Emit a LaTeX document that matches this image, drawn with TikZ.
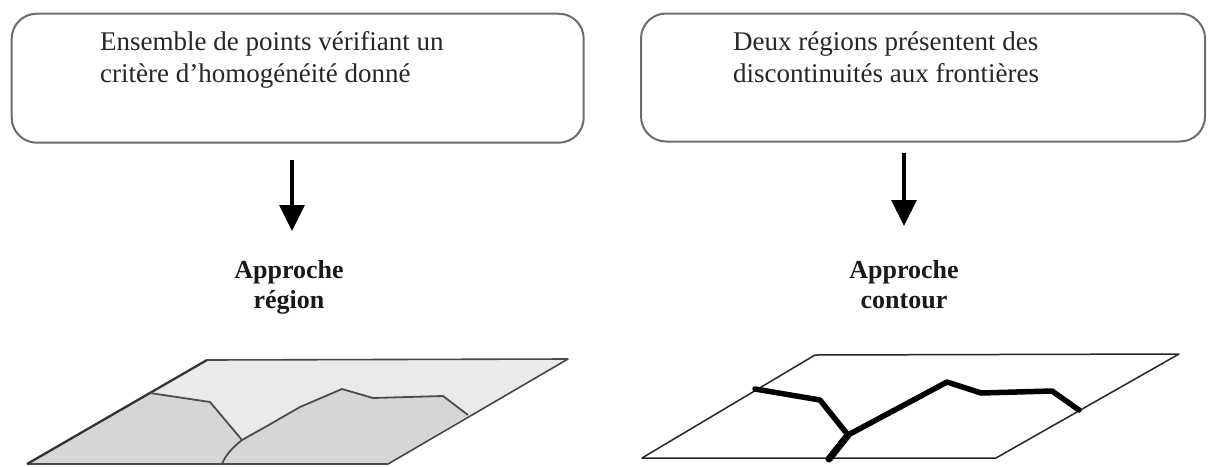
\documentclass[tikz,border=0pt]{standalone}
\usepackage{fontspec}
\setmainfont{Liberation Serif}
\usetikzlibrary{arrows.meta}
\definecolor{regiontop}{HTML}{EAEAEA}
\definecolor{regionlow}{HTML}{D6D6D6}
\definecolor{frameline}{HTML}{6C6C6C}
\begin{document}
\begin{tikzpicture}[x=1pt,y=-1pt,
  infobox/.style={draw=frameline, line width=2pt, rounded corners=25pt,
    anchor=north west, inner sep=0pt},
  boxtext/.style={anchor=base west, inner sep=0pt, text=black!85,
    font=\fontsize{27}{32}\selectfont},
  approach/.style={anchor=base, inner sep=0pt, text=black!90,
    font=\bfseries\fontsize{26}{30}\selectfont},
  downarrow/.style={line width=3.5pt, -{Triangle[width=25pt,length=26pt]}},
  planeedge/.style={draw=black!72, line width=1.6pt, line join=round},
  regionedge/.style={draw=black!70, line width=1.8pt, line join=round},
  contouredge/.style={draw=black, line width=5.5pt, line join=round, line cap=round},
  thinedge/.style={draw=black!85, line width=1.5pt, line join=round}
]
\useasboundingbox[fill=white] (0,0) rectangle (1209,466);

% ---- definition boxes ----
\node[infobox, minimum width=572pt, minimum height=129pt] (boxL) at (10.7,12.7) {};
\node[infobox, minimum width=564pt, minimum height=128pt] (boxR) at (640,12.5) {};
\node[boxtext] (tL1) at (100,50) {Ensemble de points vérifiant un};
\node[boxtext] (tL2) at (100,82) {critère d’homogénéité donné};
\node[boxtext] (tR1) at (733,50) {Deux régions présentent des};
\node[boxtext] (tR2) at (733,82) {discontinuités aux frontières};

% ---- approach labels ----
\node[approach] (apL1) at (289,278) {Approche};
\node[approach] (apL2) at (289,308) {région};
\node[approach] (apR1) at (904,278) {Approche};
\node[approach] (apR2) at (904,308) {contour};

% ---- arrows ----
\coordinate (arL1) at (292,160);
\coordinate (arL2) at (292,231);
\coordinate (arR1) at (904,153);
\coordinate (arR2) at (904,226);
\draw[downarrow] (arL1) -- (arL2);
\draw[downarrow] (arR1) -- (arR2);

% ---- region approach: plane split into three regions ----
\fill[regiontop] (207,360) -- (568,359) -- (388,464) -- (27,464) -- cycle;
\fill[regionlow] (150,393) -- (210,402) -- (242,440)
  .. controls (232,448) and (225,456) .. (222,464) -- (27,464) -- cycle;
\fill[regionlow] (242,440) -- (267,426) -- (300,407) -- (342,389) -- (373,398)
  -- (443,396) -- (468,415) -- (388,464) -- (222,464)
  .. controls (225,456) and (232,448) .. (242,440) -- cycle;
\draw[planeedge] (207,360) -- (568,359) -- (388,464) -- (27,464);
\draw[planeedge, line width=2.3pt, draw=black!80] (27,464) -- (207,360);
\draw[regionedge] (150,393) -- (210,402) -- (242,440)
  .. controls (232,448) and (225,456) .. (222,464);
\draw[regionedge] (242,440) -- (267,426) -- (300,407) -- (342,389) -- (373,398)
  -- (443,396) -- (468,415);

% ---- contour approach: plane with frontier lines ----
\draw[thinedge] (815,355) -- (1179,354) -- (996,458) -- (642,458) -- cycle;
\draw[contouredge] (755,389) -- (820,400) -- (848,435);
\draw[contouredge, line width=7pt] (848,435) -- (829,459);
\draw[contouredge] (848,435) -- (947,382) -- (981,393) -- (1052,391) -- (1079,410);
\end{tikzpicture}
\end{document}
